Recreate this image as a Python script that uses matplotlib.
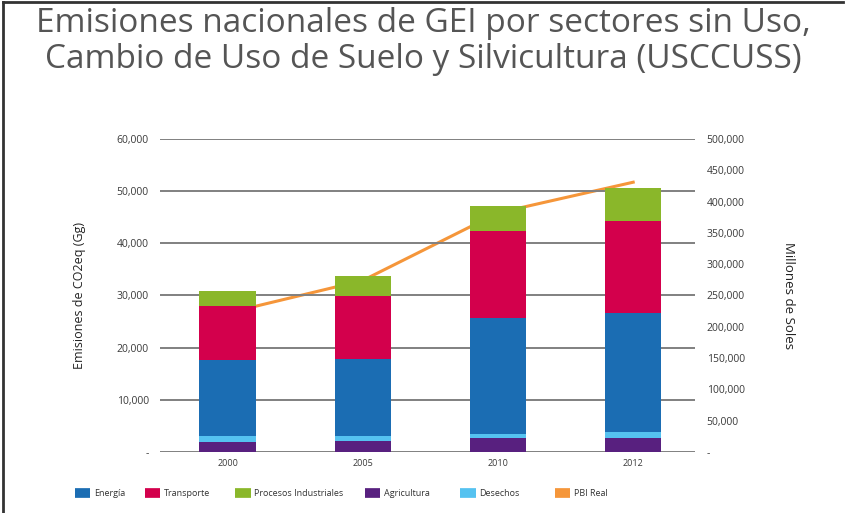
import numpy as np
import matplotlib.pyplot as plt
from matplotlib.lines import Line2D

# ---------------- Data ----------------
years = ["2000", "2005", "2010", "2012"]
agricultura = [2000, 2100, 2600, 2600]
desechos = [1000, 900, 900, 1200]
energia = [14700, 14800, 22100, 22800]
transporte = [10300, 12100, 16700, 17600]
procesos = [2900, 3800, 4900, 6400]
pbi_real = [222000, 274000, 382000, 431000]

left_ticks = [0, 10000, 20000, 30000, 40000, 50000, 60000]
right_ticks = list(range(0, 500001, 50000))

c_energia = "#1b6db3"
c_transporte = "#d3004c"
c_procesos = "#8ab72a"
c_agricultura = "#58207f"
c_desechos = "#55c2f0"
c_pbi = "#f5963a"

plt.rcParams["font.family"] = ["Open Sans", "DejaVu Sans"]

fig = plt.figure(figsize=(8.46, 5.13), dpi=100)
ax = fig.add_axes([0.189, 0.119, 0.633, 0.610])
ax2 = ax.twinx()

x = np.arange(len(years))
w = 0.415

# PBI line behind bars
ax.set_zorder(2)
ax.patch.set_visible(False)
ax2.set_zorder(1)
ax2.plot(x, pbi_real, color=c_pbi, lw=2.2, zorder=1)

# stacked bars
bottom = np.zeros(len(years))
for vals, col in [(agricultura, c_agricultura), (desechos, c_desechos),
                  (energia, c_energia), (transporte, c_transporte),
                  (procesos, c_procesos)]:
    ax.bar(x, vals, w, bottom=bottom, color=col, zorder=3)
    bottom += np.array(vals)

ax.set_xlim(-0.5, 3.46)
ax.set_ylim(0, 60000)
ax2.set_ylim(0, 500000)
ax.set_yticks(left_ticks)
ax.set_yticklabels(["-"] + [f"{v:,}" for v in left_ticks[1:]])
ax2.set_yticks(right_ticks)
ax2.set_yticklabels(["-"] + [f"{v:,}" for v in right_ticks[1:]])
ax.set_xticks(x)
ax.set_xticklabels(years)

ax.grid(axis="y", color="#808080", lw=1.4, zorder=0)
ax.set_axisbelow(True)
for a in (ax, ax2):
    for s in a.spines.values():
        s.set_visible(False)
    a.tick_params(length=0, labelsize=7.5, colors="#3a3a3a")
ax.tick_params(axis="y", pad=8)
ax2.tick_params(axis="y", pad=8)
ax.tick_params(axis="x", pad=5, labelsize=6.5)

ax.set_ylabel("Emisiones de CO2eq (Gg)", fontsize=9, color="#222222", labelpad=22)
ax2.set_ylabel("Millones de Soles", fontsize=9.5, color="#222222", rotation=270, labelpad=36)

# title
fig.text(0.5, 0.919, "Emisiones nacionales de GEI por sectores sin Uso,\nCambio de Uso de Suelo y Silvicultura (USCCUSS)",
         ha="center", va="center", fontsize=24, color="#555555", linespacing=1.13)

# legend, one entry per slot
labels = ["Energía", "Transporte", "Procesos Industriales", "Agricultura", "Desechos", "PBI Real"]
cols = [c_energia, c_transporte, c_procesos, c_agricultura, c_desechos, c_pbi]
slots = [0.0887, 0.171, 0.278, 0.431, 0.544, 0.656]
for lab, c, sx in zip(labels, cols, slots):
    h = Line2D([0], [0], color=c, lw=7, solid_capstyle="butt")
    fig.legend([h], [lab], loc="center left", bbox_to_anchor=(sx, 0.038),
               frameon=False, fontsize=6.5, handlelength=1.7, handletextpad=0.4,
               borderpad=0, borderaxespad=0, labelcolor="#333333")

# frame lines on left and top
fig.add_artist(Line2D([0.003, 0.003], [0, 0.996], color="#333333", lw=2, transform=fig.transFigure))
fig.add_artist(Line2D([0.003, 0.997], [0.996, 0.996], color="#333333", lw=2, transform=fig.transFigure))

fig.savefig("out.png", dpi=100)
